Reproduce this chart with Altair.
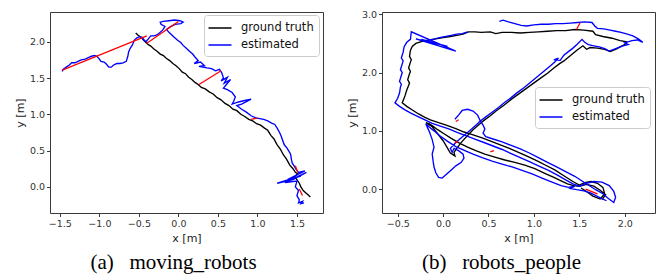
import altair as alt
import pandas as pd

# ---------------- panel (a) moving_robots ----------------
gt_a = [(-0.54,2.12),(-0.51,2.09),(-0.47,2.06),(-0.44,2.02),(-0.41,1.99),(-0.38,1.96),(-0.35,1.94),(-0.31,1.90),
        (-0.27,1.87),(-0.23,1.83),(-0.19,1.81),(-0.15,1.77),(-0.11,1.74),(-0.07,1.70),(-0.03,1.67),(0.01,1.63),
        (0.05,1.58),(0.09,1.56),(0.13,1.51),(0.17,1.48),(0.21,1.44),(0.25,1.41),(0.29,1.37),(0.34,1.35),
        (0.39,1.31),(0.44,1.28),(0.49,1.23),(0.54,1.20),(0.59,1.15),(0.64,1.12),(0.69,1.07),(0.74,1.05),
        (0.79,1.00),(0.84,0.97),(0.89,0.93),(0.94,0.91),(0.99,0.87),(1.04,0.85),(1.09,0.81),(1.13,0.78),
        (1.17,0.71),(1.21,0.66),(1.25,0.58),(1.29,0.52),(1.33,0.44),(1.37,0.38),(1.41,0.30),(1.45,0.25),
        (1.48,0.20),(1.51,0.18),(1.47,0.14),(1.50,0.10),(1.53,0.05),(1.55,0.00),(1.58,-0.05),(1.61,-0.08),
        (1.64,-0.11),(1.67,-0.14)]

est_a = [(-1.47,1.59),(-1.46,1.62),(-1.42,1.65),(-1.38,1.68),(-1.35,1.71),(-1.31,1.71),(-1.27,1.73),(-1.23,1.75),
         (-1.18,1.76),(-1.14,1.78),(-1.10,1.80),(-1.06,1.81),(-1.03,1.80),(-1.00,1.76),(-0.98,1.73),(-0.94,1.72),
         (-0.91,1.69),(-0.88,1.65),(-0.85,1.65),(-0.82,1.68),(-0.78,1.70),(-0.74,1.70),(-0.70,1.71),(-0.66,1.73),
         (-0.64,1.80),(-0.63,1.86),(-0.61,1.91),(-0.58,1.96),(-0.56,2.02),(-0.53,2.05),(-0.49,2.07),(-0.46,2.06),
         (-0.43,2.02),(-0.41,2.00),(-0.38,2.04),(-0.35,2.08),(-0.31,2.08),(-0.28,2.09),(-0.24,2.12),(-0.20,2.16),
         (-0.17,2.21),(-0.22,2.24),(-0.23,2.27),(-0.19,2.28),(-0.12,2.29),(-0.05,2.30),(0.02,2.29),(0.06,2.27),
         (0.03,2.25),(-0.04,2.24),(-0.10,2.21),(-0.15,2.17),(-0.12,2.13),(-0.08,2.09),(-0.05,2.06),(-0.01,2.02),
         (0.03,1.99),(0.06,1.95),(0.10,1.91),(0.14,1.87),(0.18,1.83),(0.21,1.79),(0.25,1.74),(0.20,1.70),
         (0.28,1.72),(0.33,1.67),(0.26,1.66),(0.36,1.64),(0.42,1.63),(0.47,1.60),(0.52,1.62),(0.55,1.57),
         (0.57,1.50),(0.54,1.46),(0.62,1.51),(0.58,1.43),(0.66,1.48),(0.60,1.40),(0.57,1.36),(0.62,1.34),
         (0.68,1.30),(0.72,1.24),(0.70,1.18),(0.68,1.14),(0.76,1.17),(0.84,1.19),(0.92,1.21),(0.80,1.14),
         (0.74,1.12),(0.80,1.07),(0.86,1.03),(0.92,0.98),(0.98,0.95),(1.03,0.94),(1.08,0.93),(1.13,0.91),
         (1.18,0.88),(1.22,0.86),(1.25,0.81),(1.28,0.75),(1.30,0.70),(1.32,0.64),(1.34,0.58),(1.37,0.54),
         (1.40,0.49),(1.42,0.45),(1.43,0.38),(1.44,0.33),(1.47,0.28),(1.49,0.24),(1.52,0.20),(1.60,0.22),
         (1.38,0.10),(1.55,0.15),(1.25,0.05),(1.45,0.10),(1.62,0.20),(1.35,0.06),(1.50,0.08),(1.48,0.00),
         (1.52,-0.05),(1.50,-0.12),(1.53,-0.18),(1.52,-0.22),(1.57,-0.20),(1.55,-0.23),(1.59,-0.22)]

red_a = [((-1.47,1.61),(-0.40,2.08)),
         ((-0.40,1.98),(0.00,2.28)),
         ((0.26,1.41),(0.54,1.60)),
         ((0.92,0.93),(1.00,0.95)),
         ((1.48,0.29),(1.51,0.20)),
         ((1.53,-0.03),(1.57,-0.12))]

# ---------------- panel (b) robots_people ----------------
gt_b = [(1.75,-0.18),(1.79,-0.10),(1.73,-0.02),(1.66,0.05),(1.58,0.08),(1.50,0.05),(1.44,0.06),
        (1.37,0.09),(1.30,0.14),(1.22,0.20),(1.12,0.27),(1.01,0.35),(0.90,0.41),(0.79,0.46),(0.68,0.50),
        (0.57,0.55),(0.46,0.60),(0.36,0.66),(0.27,0.72),(0.18,0.79),(0.09,0.87),(0.01,0.95),(-0.06,1.02),
        (-0.11,1.08),(-0.15,1.12),(-0.19,1.14),
        (-0.12,1.07),(-0.06,0.95),(0.00,0.83),(0.05,0.70),(0.08,0.62),(0.13,0.57),(0.12,0.63),
        (0.16,0.72),(0.21,0.82),(0.27,0.92),(0.33,1.02),(0.39,1.10),(0.45,1.18),(0.52,1.26),(0.59,1.35),
        (0.67,1.44),(0.75,1.54),(0.83,1.63),(0.91,1.72),(0.99,1.81),(1.07,1.90),(1.15,1.99),(1.22,2.08),
        (1.28,2.15),(1.33,2.20),
        (1.40,2.29),(1.47,2.38),(1.54,2.46),(1.58,2.40),(1.62,2.43),(1.70,2.42),(1.78,2.40),(1.84,2.36),
        (1.90,2.40),(1.95,2.44),(2.00,2.48),(2.02,2.53),(1.95,2.55),(1.86,2.59),(1.76,2.62),(1.68,2.65),
        (1.65,2.71),
        (1.55,2.73),(1.45,2.74),(1.35,2.72),(1.25,2.72),(1.15,2.71),(1.05,2.70),(0.95,2.69),(0.85,2.68),
        (0.75,2.69),(0.65,2.69),(0.58,2.67),(0.52,2.70),(0.42,2.69),(0.35,2.70),(0.28,2.70),(0.22,2.66),
        (0.15,2.64),(0.08,2.62),(0.00,2.60),(-0.08,2.58),(-0.16,2.56),(-0.24,2.53),(-0.30,2.50),(-0.34,2.45),
        (-0.36,2.38),(-0.37,2.28),(-0.35,2.22),(-0.36,2.18),(-0.38,2.08),(-0.36,2.02),(-0.37,1.98),(-0.39,1.88),
        (-0.37,1.82),(-0.38,1.78),(-0.40,1.70),(-0.42,1.60),(-0.44,1.52),(-0.45,1.48),
        (-0.40,1.42),(-0.33,1.35),(-0.27,1.29),(-0.20,1.23),(-0.14,1.19),(-0.05,1.14),(0.05,1.09),(0.14,1.04),
        (0.23,0.98),(0.33,0.93),(0.43,0.88),(0.53,0.82),(0.63,0.76),(0.73,0.70),(0.83,0.63),(0.93,0.56),
        (1.03,0.49),(1.13,0.41),(1.23,0.33),(1.33,0.23),(1.43,0.13),(1.50,0.07),
        (1.56,0.11),(1.63,0.13),(1.70,0.10),(1.76,0.03),(1.78,-0.08),(1.73,-0.17),(1.65,-0.12),(1.58,-0.04),
        (1.52,0.02)]

est_b1 = [(1.80,-0.20),(1.72,-0.14),(1.63,-0.07),(1.55,-0.03),(1.47,-0.01),(1.40,0.01),(1.45,0.05),(1.38,0.03),
          (1.30,0.06),(1.20,0.12),(1.09,0.19),(0.98,0.26),(0.87,0.32),(0.76,0.38),(0.65,0.43),(0.54,0.48),
          (0.43,0.54),(0.33,0.60),(0.24,0.66),(0.14,0.73),(0.05,0.82),(-0.04,0.92),(-0.10,1.00),(-0.15,1.06),
          (-0.19,1.12),(-0.15,0.98),(-0.12,0.85),(-0.10,0.72),(-0.12,0.60),(-0.11,0.48),(-0.10,0.38),(-0.08,0.28),
          (-0.05,0.20),(-0.01,0.19),(0.04,0.26),(0.09,0.33),(0.14,0.40),(0.20,0.46),(0.23,0.53),(0.22,0.60),
          (0.17,0.66),(0.12,0.70),(0.10,0.63),(0.08,0.70),(0.14,0.80),
          (0.20,0.88),(0.26,0.96),(0.32,1.04),(0.37,1.11),(0.41,1.17),(0.47,1.24),(0.54,1.32),(0.61,1.40),
          (0.68,1.49),(0.75,1.57),(0.82,1.66),(0.89,1.74),(0.96,1.83),(1.03,1.92),(1.10,2.01),(1.17,2.10),
          (1.23,2.18),(1.27,2.25),(1.22,2.22),(1.29,2.21),(1.33,2.30),(1.38,2.36),(1.43,2.42),(1.48,2.49),
          (1.53,2.57),
          (1.56,2.52),(1.60,2.48),(1.66,2.46),(1.72,2.44),(1.78,2.41),(1.83,2.37),(1.88,2.40),(1.93,2.43),
          (1.98,2.46),(2.04,2.48),(2.00,2.51),(2.08,2.55),(2.14,2.56),(2.20,2.52),(2.15,2.58),(2.09,2.63),
          (2.03,2.66),(1.96,2.69),(1.90,2.71),(1.84,2.73),(1.77,2.75),(1.70,2.76),(1.67,2.80),(1.64,2.86),
          (1.56,2.87),(1.48,2.86),(1.40,2.85),(1.32,2.84),(1.24,2.84),(1.16,2.83),(1.08,2.83),(1.00,2.82),
          (0.92,2.80),(0.86,2.81),(0.79,2.84),(0.72,2.87),(0.66,2.90),(0.62,2.88)]

est_b2 = [(0.27,2.70),(0.21,2.67),(0.15,2.66),(0.09,2.64),(0.03,2.62),(-0.04,2.60),(-0.11,2.57),(-0.18,2.55),
          (-0.24,2.57),(0.05,2.45),(-0.30,2.58),(0.14,2.37),(-0.35,2.70),(-0.36,2.57),(-0.40,2.52),(-0.43,2.44),
          (-0.44,2.35),(-0.46,2.25),(-0.44,2.20),(-0.45,2.15),(-0.47,2.05),(-0.45,2.00),(-0.46,1.95),(-0.48,1.85),
          (-0.46,1.80),(-0.47,1.75),(-0.48,1.65),(-0.50,1.56),(-0.53,1.48),
          (-0.48,1.42),(-0.42,1.36),(-0.35,1.30),(-0.27,1.24),(-0.20,1.19),(-0.12,1.13),(-0.03,1.08),(0.07,1.03),
          (0.16,0.97),(0.25,0.92),(0.35,0.86),(0.45,0.80),(0.55,0.74),(0.65,0.68),(0.75,0.61),(0.85,0.54),
          (0.95,0.47),(1.05,0.40),(1.15,0.33),(1.25,0.25),(1.35,0.16),(1.43,0.09),
          (1.50,0.05),(1.58,0.10),(1.66,0.13),(1.75,0.12),(1.83,0.06),(1.88,-0.04),(1.90,-0.14),(1.88,-0.23),
          (1.82,-0.16),(1.76,-0.08),(1.68,-0.01),(1.60,0.07),(1.53,0.14),
          (1.45,0.22),(1.35,0.30),(1.25,0.38),(1.15,0.46),(1.05,0.54),(0.95,0.62),(0.85,0.69),(0.75,0.75),
          (0.65,0.81),(0.55,0.86),(0.47,0.90),(0.44,0.96),(0.46,1.03),(0.44,1.10),(0.41,1.17),
          (0.38,1.27),(0.33,1.34),(0.27,1.37),(0.21,1.35),(0.17,1.27),(0.13,1.20)]

red_b = [((1.47,2.74),(1.51,2.86)),
         ((1.57,0.00),(1.70,-0.08)),
         ((0.13,0.79),(0.16,0.82)),
         ((0.14,1.16),(0.17,1.19)),
         ((0.52,0.64),(0.56,0.66))]

series_names = ["ground truth", "estimated"]
series_colors = ["#000000", "#0000ff"]

xdom_a, ydom_a = [-1.625, 1.83], [-0.36, 2.41]
xdom_b, ydom_b = [-0.673, 2.334], [-0.41, 3.04]
xticks_a = [-1.5, -1.0, -0.5, 0.0, 0.5, 1.0, 1.5]
yticks_a = [0.0, 0.5, 1.0, 1.5, 2.0]
xticks_b = [-0.5, 0.0, 0.5, 1.0, 1.5, 2.0]
yticks_b = [0.0, 0.5, 1.0, 1.5, 2.0, 2.5, 3.0]
captions = ["(a)\u00a0\u00a0\u00a0moving_robots", "(b)\u00a0\u00a0\u00a0robots_people"]


def traj(pairs, series, seg):
    return pd.DataFrame({"x": [p[0] for p in pairs], "y": [p[1] for p in pairs],
                         "series": series, "seg": seg, "i": list(range(len(pairs)))})


def reds(segs):
    return pd.DataFrame({"x": [s[0][0] for s in segs], "y": [s[0][1] for s in segs],
                         "x2": [s[1][0] for s in segs], "y2": [s[1][1] for s in segs]})


def panel(df, red, xdom, ydom, xt, yt, lx, ly, caption, cdx):
    xs = alt.Scale(domain=xdom, nice=False, zero=False)
    ys = alt.Scale(domain=ydom, nice=False, zero=False)
    lines = alt.Chart(df).mark_line(strokeWidth=1.35, clip=True).encode(
        x=alt.X("x:Q", scale=xs, axis=alt.Axis(values=xt, format=".1f", title="x [m]", grid=False)),
        y=alt.Y("y:Q", scale=ys, axis=alt.Axis(values=yt, format=".1f", title="y [m]", grid=False)),
        color=alt.Color("series:N",
                        scale=alt.Scale(domain=series_names, range=series_colors),
                        legend=alt.Legend(title=None, orient="none", legendX=lx, legendY=ly,
                                          symbolType="M-1.64,0L1.64,0", symbolSize=196,
                                          symbolStrokeWidth=1.5, symbolOffset=3,
                                          labelFont="DejaVu Sans", labelFontSize=11.5, labelColor="#111111",
                                          fillColor="white", strokeColor="#cccccc", cornerRadius=3,
                                          padding=5, rowPadding=3, labelOffset=13)),
        detail="seg:N",
        order="i:Q",
    )
    rr = alt.Chart(red).mark_rule(color="#ff0000", strokeWidth=1.3, clip=True).encode(
        x=alt.X("x:Q", scale=xs), y=alt.Y("y:Q", scale=ys), x2="x2:Q", y2="y2:Q")
    return alt.layer(lines, rr).properties(
        width=273, height=201,
        title=alt.TitleParams(caption, orient="bottom", anchor="middle", offset=9, dx=cdx))


df_a = pd.concat([traj(gt_a, "ground truth", "gt"), traj(est_a, "estimated", "est")])
df_b = pd.concat([traj(gt_b, "ground truth", "gt"), traj(est_b1, "estimated", "est1"),
                  traj(est_b2, "estimated", "est2")])

pa = panel(df_a, reds(red_a), xdom_a, ydom_a, xticks_a, yticks_a, 154, 3, captions[0], -13)
pb = panel(df_b, reds(red_b), xdom_b, ydom_b, xticks_b, yticks_b, 153, 75, captions[1], -17)

chart = alt.hconcat(pa, pb, spacing=21).resolve_scale(
    x="independent", y="independent", color="independent"
).resolve_legend(color="independent").properties(
    padding={"left": 5, "top": 0, "right": 5, "bottom": 0}
).configure_view(stroke="#3a3a3a", strokeWidth=1).configure_axis(
    domain=False, tickColor="#3a3a3a", tickSize=3.5, labelFont="DejaVu Sans", labelFontSize=9.5,
    labelColor="#333333", labelPadding=2, titleFont="DejaVu Sans", titleFontSize=11,
    titleFontWeight="normal", titleColor="#222222", titlePadding=4
).configure_title(font="Liberation Serif", fontSize=21, fontWeight="normal", color="#000000")

chart.save("out.html", embed_options={"renderer": "svg", "actions": False})
